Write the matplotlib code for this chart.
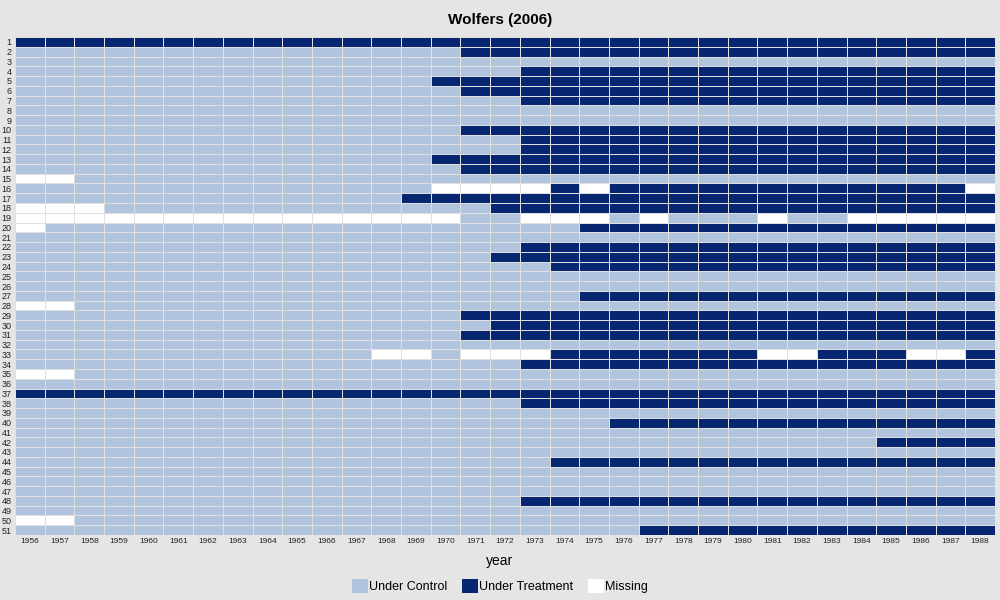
import numpy as np
import matplotlib
matplotlib.use("Agg")
import matplotlib.pyplot as plt
from matplotlib.colors import ListedColormap
from matplotlib.patches import Patch

plt.rcParams["font.family"] = ["Liberation Sans", "DejaVu Sans"]

years = list(range(1956, 1989))
units = list(range(1, 52))

# first treated year per unit (None = never treated)
treat_start = [1956, 1971, None, 1973, 1970, 1971, 1973, None, None, 1971,
               1973, 1973, 1970, 1971, None, 1974, 1969, 1972, None, 1975,
               None, 1973, 1972, 1974, None, None, 1975, None, 1971, 1972,
               1971, None, 1974, 1973, None, None, 1956, 1973, None, 1976,
               None, 1985, None, 1974, None, None, None, 1973, None, None,
               1977]

# missing years per unit
missing_years = {
    15: [1956, 1957],
    16: [1970, 1971, 1972, 1973, 1975, 1988],
    18: [1956, 1957, 1958],
    19: list(range(1956, 1971)) + [1973, 1974, 1975, 1977, 1981,
                                   1984, 1985, 1986, 1987, 1988],
    20: [1956],
    28: [1956, 1957],
    33: [1968, 1969, 1971, 1972, 1973, 1981, 1982, 1986, 1987],
    35: [1956, 1957],
    50: [1956, 1957],
}

legend_labels = ["Under Control", "Under Treatment", "Missing"]
colors = ["#B0C4DE", "#06266F", "#FFFFFF"]
bg = "#E5E5E5"

status = np.zeros((len(units), len(years)))
for i, u in enumerate(units):
    for j, y in enumerate(years):
        s = treat_start[i]
        if s is not None and y >= s:
            status[i, j] = 1
        if y in missing_years.get(u, []):
            status[i, j] = 2

fig = plt.figure(figsize=(10, 6), dpi=100, facecolor=bg)
ax = fig.add_axes([0.015, 1 - 535 / 600, 0.98, (535 - 37) / 600])
ax.set_facecolor(bg)
cmap = ListedColormap(colors)
nx, ny = len(years), len(units)
ax.pcolormesh(np.arange(nx + 1), np.arange(ny + 1), status,
              cmap=cmap, vmin=-0.5, vmax=2.5, edgecolors="none")
ax.vlines(np.arange(nx + 1), 0, ny, colors="#E0E0E0", linewidth=0.72,
          antialiased=False)
ax.hlines(np.arange(ny + 1), 0, nx, colors="#E0E0E0", linewidth=0.72,
          antialiased=False)
ax.set_xlim(0, nx)
ax.set_ylim(ny, 0)
ax.set_xticks(np.arange(nx) + 0.5)
ax.set_xticklabels([str(y) for y in years], fontsize=6, color="#222222")
ax.set_yticks(np.arange(ny) + 0.5)
ax.set_yticklabels([str(u) for u in units], fontsize=6.5, color="#222222")
ax.tick_params(length=0, pad=2.5)
for sp in ax.spines.values():
    sp.set_visible(False)

fig.text(0.5, 1 - 20 / 600, "Wolfers (2006)", ha="center", va="center",
         fontsize=11, fontweight="bold")
fig.text(0.5, 1 - 561 / 600, "year", ha="center", va="center", fontsize=10)

handles = [Patch(facecolor=c, edgecolor="none") for c in colors]
fig.legend(handles, legend_labels, loc="center", ncol=3,
           bbox_to_anchor=(0.5, 1 - 586 / 600), frameon=False, fontsize=9,
           handlelength=1.3, handleheight=1.3, handletextpad=0.05,
           columnspacing=1.2)

fig.savefig("out.png", dpi=100, facecolor=bg)
